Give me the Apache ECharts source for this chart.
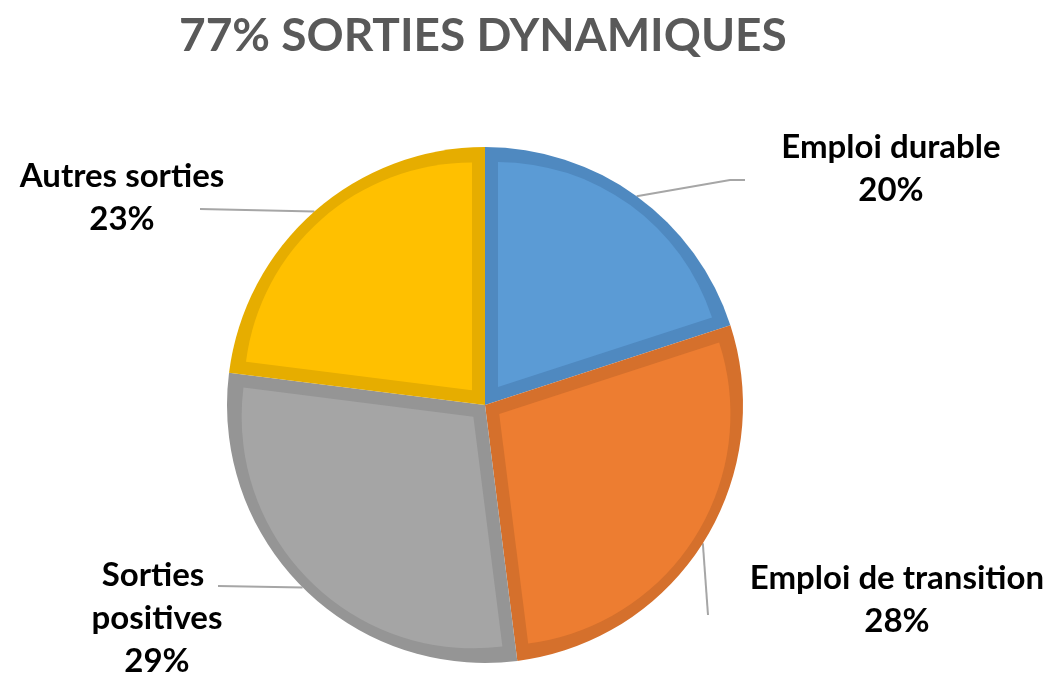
<!DOCTYPE html>
<html>
<head>
<meta charset="utf-8">
<script src="https://cdn.jsdelivr.net/npm/echarts@6/dist/echarts.min.js"></script>
<style>
html, body { margin: 0; padding: 0; background: #fff; }
#chart { width: 1053px; height: 675px; }
</style>
</head>
<body>
<div id="chart"></div>
<script>
// données du graphique
var titleText = '77% SORTIES DYNAMIQUES';
var categories = ['Emploi durable', 'Emploi de transition', 'Sorties positives', 'Autres sorties'];
var values = [20, 28, 29, 23];
var fillColors = ['#5b9bd5', '#ed7d31', '#a5a5a5', '#ffc000'];
var edgeColors = ['#4f89c0', '#d5702c', '#959595', '#e6ad00'];

(function() {
    var cx = 485, cy = 405, R = 258, B = 13;
    var rad = Math.PI / 180;
    var total = values.reduce(function(a, b) { return a + b; }, 0);

    // centre de chaque étiquette (bloc de texte) et coude des traits de rappel
    var labelSpots = [[891, 169], [897, 600], [157, 618], [122, 198]];
    var lineBends = [[[730, 180], [745, 180]], [[708, 615], [708, 615]], [[218, 586], [218, 586]], [[200, 209], [200, 209]]];

    // angle médian de chaque part (degrés, sens horaire depuis midi)
    var mids = [];
    var acc = 0;
    values.forEach(function(v) {
        var th = v / total * 360;
        mids.push({ mid: acc + th / 2, th: th });
        acc += th;
    });

    var series = [];

    // disque de fond : couleur de bordure + étiquettes
    series.push({
        type: 'pie',
        center: [cx, cy],
        radius: R,
        startAngle: 90,
        clockwise: true,
        animation: false,
        percentPrecision: 0,
        emphasis: { disabled: true },
        data: categories.map(function(name, i) {
            var item = { name: name, value: values[i], itemStyle: { color: edgeColors[i] } };
            if (i === 2) {
                item.label = { width: 160, overflow: 'break' };
            }
            return item;
        }),
        label: {
            show: true,
            formatter: '{b}\n{d}%',
            fontFamily: 'Lato',
            fontWeight: 'bold',
            fontSize: 33,
            lineHeight: 43,
            color: '#000',
            align: 'center'
        },
        labelLine: {
            show: true,
            length: 20,
            length2: 15,
            lineStyle: { color: '#a6a6a6', width: 2 }
        },
        labelLayout: function(p) {
            var i = p.dataIndex;
            var s = labelSpots[i];
            var m = mids[i].mid * rad;
            var edge = [cx + R * Math.sin(m), cy - R * Math.cos(m)];
            return {
                x: s[0], y: s[1], align: 'center', verticalAlign: 'middle',
                labelLinePoints: [edge, lineBends[i][0], lineBends[i][1]]
            };
        }
    });

    // intérieur clair de chaque part, décalé pour laisser la bordure
    values.forEach(function(v, i) {
        var th = mids[i].th;
        var mid = mids[i].mid;
        var d = B / Math.sin(th / 2 * rad);
        var c = Math.cos(th / 2 * rad);
        var r = R - B - d * (1 + c) / 2;
        series.push({
            type: 'pie',
            silent: true,
            animation: false,
            center: [cx + d * Math.sin(mid * rad), cy - d * Math.cos(mid * rad)],
            radius: r,
            startAngle: 90,
            clockwise: true,
            label: { show: false },
            labelLine: { show: false },
            emphasis: { disabled: true },
            data: values.map(function(val, j) {
                return { value: val, itemStyle: { color: j === i ? fillColors[i] : 'rgba(0,0,0,0)' } };
            })
        });
    });

    var myChart = echarts.init(document.getElementById('chart'));
    myChart.setOption({
        backgroundColor: '#fff',
        title: {
            text: titleText,
            left: 174,
            top: 8,
            textStyle: {
                fontFamily: 'Lato',
                fontWeight: 'bold',
                fontSize: 46,
                color: '#595959'
            }
        },
        series: series
    });
})();
</script>
</body>
</html>
